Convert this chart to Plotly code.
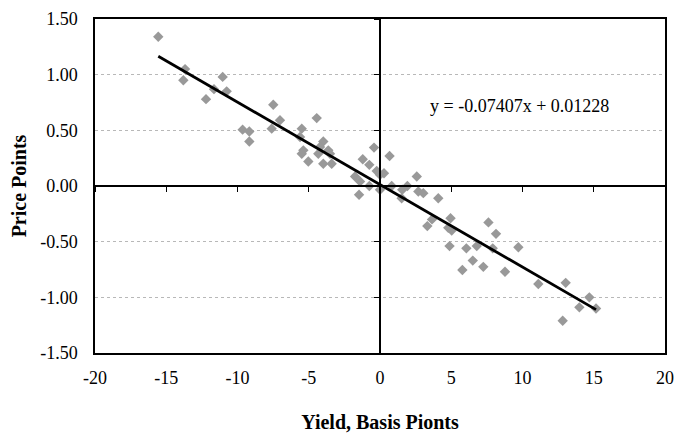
import plotly.graph_objects as go

# Yield change (basis points) and price change (points)
yield_bp = [
    -15.56, -13.68, -13.80, -11.04, -11.65, -10.76, -12.21, -7.49, -7.02, -7.60,
    -9.64, -9.17, -9.17, -4.44, -5.49, -5.61, -3.98, -4.21, -3.63, -5.38,
    -5.49, -3.51, -4.33, -5.03, -3.98, -3.39, -0.42, -1.21, -0.75, 0.67,
    -0.23, 0.00, -1.75, -1.40, -0.75, 0.00, -1.47, 0.28, 0.82, 2.58,
    1.92, 1.56, 1.52, 2.69, 3.04, 4.09, 3.65, 3.32, 4.95, 4.79,
    5.03, 4.88, 6.06, 6.79, 6.51, 5.78, 7.25, 7.61, 8.14, 7.91,
    9.71, 8.77, 11.11, 13.03, 12.82, 13.99, 14.69, 15.16,
]
price_pts = [
    1.34, 1.05, 0.95, 0.98, 0.87, 0.85, 0.78, 0.73, 0.59, 0.515,
    0.506, 0.49, 0.40, 0.61, 0.515, 0.44, 0.40, 0.35, 0.32, 0.32,
    0.29, 0.29, 0.29, 0.22, 0.20, 0.20, 0.345, 0.24, 0.19, 0.27,
    0.135, 0.10, 0.085, 0.04, 0.00, -0.034, -0.078, 0.114, 0.00, 0.085,
    0.00, -0.034, -0.11, -0.05, -0.064, -0.11, -0.30, -0.36, -0.29, -0.376,
    -0.40, -0.54, -0.56, -0.54, -0.67, -0.755, -0.726, -0.327, -0.43, -0.56,
    -0.55, -0.77, -0.88, -0.87, -1.21, -1.09, -1.00, -1.10,
]

slope = -0.07407
intercept = 0.01228
equation_text = "y = -0.07407x + 0.01228"

x_ticks = [-20, -15, -10, -5, 0, 5, 10, 15, 20]
y_ticks = [-1.5, -1.0, -0.5, 0.0, 0.5, 1.0, 1.5]
y_tick_labels = ["-1.50", "-1.00", "-0.50", "0.00", "0.50", "1.00", "1.50"]

x_range = [-20, 20]
y_range = [-1.5, 1.5]

fit_x = [min(yield_bp), max(yield_bp)]
fit_y = [slope * v + intercept for v in fit_x]

FONT = "Liberation Serif, Times New Roman, serif"

fig = go.Figure()
fig.add_trace(go.Scatter(
    x=yield_bp, y=price_pts, mode="markers",
    marker=dict(symbol="diamond", size=8, color="#999999", line=dict(width=0)),
    showlegend=False, hoverinfo="x+y",
))
fig.add_trace(go.Scatter(
    x=fit_x, y=fit_y, mode="lines", xaxis="x2", yaxis="y2",
    line=dict(color="black", width=2.8),
    showlegend=False,
))

fig.update_layout(
    width=687, height=433,
    margin=dict(l=87, r=30, t=11, b=88, autoexpand=False),
    paper_bgcolor="white", plot_bgcolor="white",
    font=dict(family=FONT, size=18, color="black"),
    xaxis=dict(
        range=x_range, tickvals=x_ticks, ticktext=[str(v) for v in x_ticks],
        showgrid=False, zeroline=False, automargin=False,
        ticklabeloverflow="allow",
        showline=True, linecolor="black", linewidth=1.5, mirror=True,
        ticks="outside", ticklen=8, tickcolor="rgba(0,0,0,0)",
        tickfont=dict(family=FONT, size=18),
        title=dict(text="<b>Yield, Basis Pionts</b>", standoff=28,
                   font=dict(family=FONT, size=20)),
    ),
    yaxis=dict(
        range=y_range, tickvals=y_ticks, ticktext=y_tick_labels,
        showgrid=True, gridcolor="#b8b8b8", griddash="dot", gridwidth=1,
        zeroline=False, automargin=False,
        ticklabeloverflow="allow",
        showline=True, linecolor="black", linewidth=1.5, mirror=True,
        ticks="outside", ticklen=12, tickcolor="rgba(0,0,0,0)",
        tickfont=dict(family=FONT, size=18),
        title=dict(text="<b>Price Points</b>", standoff=10,
                   font=dict(family=FONT, size=20)),
    ),
    xaxis2=dict(
        range=x_range, overlaying="x", anchor="free", position=0.5,
        tickvals=x_ticks, showticklabels=False, showgrid=False, zeroline=False,
        showline=True, linecolor="black", linewidth=1.5, automargin=False,
        ticks="outside", ticklen=5, tickcolor="black", tickwidth=1,
    ),
    yaxis2=dict(
        range=y_range, overlaying="y", anchor="free", position=0.5,
        tickvals=y_ticks, showticklabels=False, showgrid=False, zeroline=False,
        showline=True, linecolor="black", linewidth=1.5, automargin=False,
        ticks="outside", ticklen=5, tickcolor="black", tickwidth=1,
    ),
    annotations=[dict(
        x=9.8, y=0.72, xref="x", yref="y", text=equation_text,
        showarrow=False, font=dict(family=FONT, size=18, color="black"),
    )],
)

fig.write_html("out.html")
